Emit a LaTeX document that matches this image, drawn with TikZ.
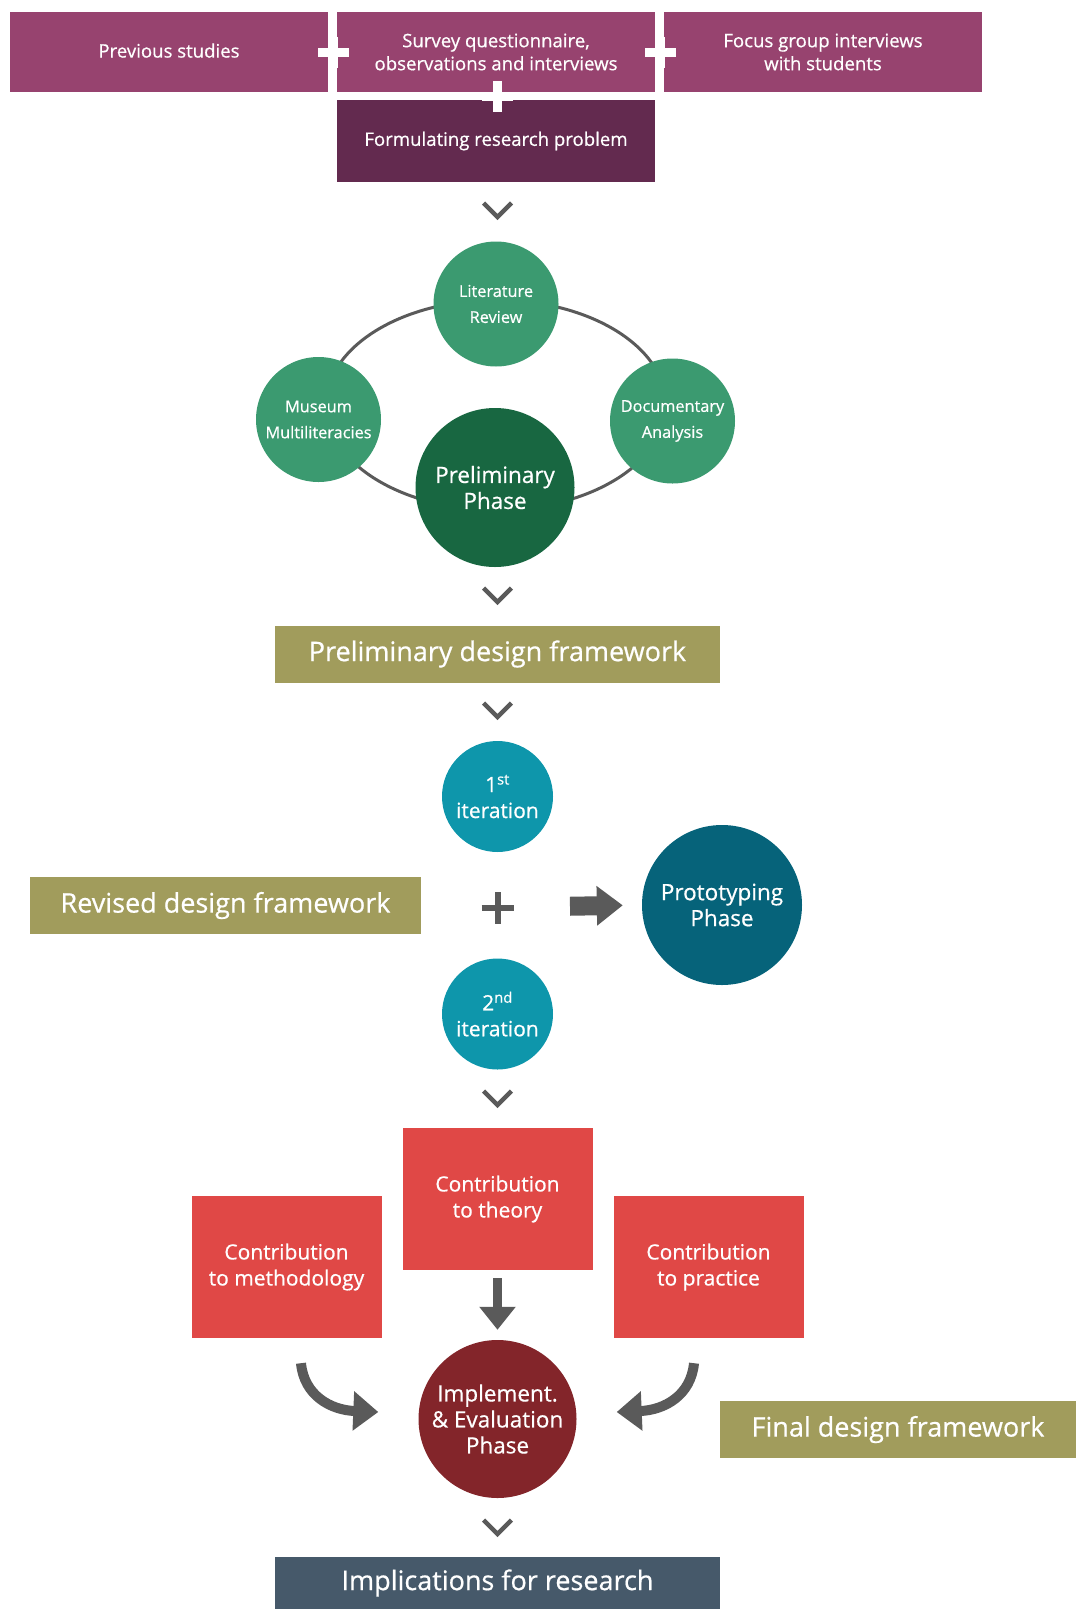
\documentclass[tikz,border=0pt]{standalone}
\usepackage{fontspec}
\setmainfont{Open Sans}[UprightFeatures={FakeBold=0.6}]
\usetikzlibrary{positioning,calc,arrows.meta}

\definecolor{plumlight}{HTML}{97436F}
\definecolor{plumdark}{HTML}{632A4F}
\definecolor{greenlight}{HTML}{3B9A70}
\definecolor{greendark}{HTML}{186741}
\definecolor{olivebox}{HTML}{A19C5C}
\definecolor{tealmid}{HTML}{0E96AB}
\definecolor{tealdark}{HTML}{06637A}
\definecolor{redbox}{HTML}{E04846}
\definecolor{reddark}{HTML}{83252A}
\definecolor{slatebox}{HTML}{46596A}
\definecolor{arrowgray}{HTML}{5A5A5A}

\begin{document}
\begin{tikzpicture}[x=1pt, y=-1pt,
                    every node/.style={text=white, align=center, inner sep=0pt},
                    source/.style={rectangle, fill=plumlight, minimum width=318pt, minimum height=80pt, font=\fontsize{18.6}{23}\selectfont},
                    problem/.style={source, fill=plumdark, minimum height=82pt},
                    method/.style={circle, fill=greenlight, minimum size=125pt, font=\fontsize{16.3}{26}\selectfont},
                    phase/.style={circle, minimum size=159pt, font=\fontsize{22.5}{26}\selectfont},
                    framework/.style={rectangle, fill=olivebox, minimum height=57pt, font=\fontsize{27}{30}\selectfont},
                    iteration/.style={circle, fill=tealmid, minimum size=111pt, font=\fontsize{21}{26}\selectfont},
                    contrib/.style={rectangle, fill=redbox, minimum width=190pt, minimum height=142pt, font=\fontsize{21}{26}\selectfont},
                    chev/.style={draw=arrowgray, line width=4.5pt},
                    bend arrow/.style={draw=arrowgray, line width=10pt, -{Triangle[length=25pt, width=38pt]}},
                ]
                    \useasboundingbox (0,0) rectangle (1080,1609);

                    % sources
                    \node[source] (prev) at (169,52) {\raisebox{3pt}{Previous studies}};
                    \node[source] (survey) at (496,52) {Survey questionnaire,\\observations and interviews};
                    \node[source] (focus) at (823,52) {Focus group interviews\\with students};
                    \node[problem] (problem) at (496,141) {Formulating research problem};
                    \foreach \jx/\jy in {333/52, 660/52, 497/96} {
                        \fill[white] (\jx-15.5,\jy-4.5) rectangle (\jx+15.5,\jy+4.5);
                        \fill[white] (\jx-4.5,\jy-15.5) rectangle (\jx+4.5,\jy+15.5);
                    }

                    % chevrons
                    \foreach \cy in {210,595,710,1098,1527}
                        \draw[chev] (483.5,\cy-7) -- (497.5,\cy+7) -- (511.5,\cy-7);

                    % preliminary phase
                    \draw[draw=arrowgray, line width=3pt] (496,405) ellipse [x radius=170pt, y radius=105pt];
                    \node[method] (lit) at (496,304) {Literature\\Review};
                    \node[method] (museum) at (318.5,419.5) {Museum\\Multiliteracies};
                    \node[method] (docu) at (672.5,421) {Documentary\\Analysis};
                    \node[phase, fill=greendark] (prelim) at (495,487.5) {Preliminary\\Phase};

                    \node[framework, minimum width=445pt] (prelimframe) at (497.5,654) {Preliminary design framework};

                    % prototyping phase
                    \node[iteration] (iterone) at (497.5,796.5) {1\textsuperscript{st}\\iteration};
                    \node[iteration] (itertwo) at (497.5,1014) {2\textsuperscript{nd}\\iteration};
                    \coordinate (plus) at (497.5,907.5);
                    \draw[draw=arrowgray, line width=6pt] ([xshift=-16pt]plus) -- ([xshift=16pt]plus);
                    \draw[draw=arrowgray, line width=6pt] ([yshift=-16pt]plus) -- ([yshift=16pt]plus);
                    \node[phase, fill=tealdark, minimum size=160pt] (proto) at (722,905) {Prototyping\\Phase};
                    \node[framework, minimum width=391pt] (revised) at (225.5,905.5) {Revised design framework};
                    \draw[draw=arrowgray, line width=19pt, -{Triangle[length=26pt, width=38pt]},
                          shorten <=72.5pt, shorten >=19pt] (plus) -- (proto.west);

                    % implementation and evaluation phase
                    \node[contrib] (theory) at (497.5,1199) {Contribution\\to theory};
                    \node[contrib] (methodology) at (286.5,1267) {Contribution\\to methodology};
                    \node[contrib] (practice) at (708.5,1267) {Contribution\\to practice};
                    \node[phase, fill=reddark, minimum size=158pt] (impl) at (497.5,1419) {Implement.\\\& Evaluation\\Phase};
                    \draw[draw=arrowgray, line width=9pt, -{Triangle[length=23pt, width=35pt]},
                          shorten <=8pt, shorten >=10pt] (theory.south) -- (impl.north);
                    \draw[bend arrow] ([shift={(14.5,25)}]methodology.south) .. controls +(3,32) and +(-48,-2) .. ([shift={(-40,-7)}]impl.west);
                    \draw[bend arrow] ([shift={(-14.5,25)}]practice.south) .. controls +(-3,32) and +(48,-2) .. ([shift={(40,-7)}]impl.east);
                    \node[framework, minimum width=356pt] (final) at (898,1429.5) {Final design framework};

                    \node[framework, fill=slatebox, minimum width=445pt, minimum height=52pt] (implic) at (497.5,1583) {Implications for research};
                \end{tikzpicture}
\end{document}
